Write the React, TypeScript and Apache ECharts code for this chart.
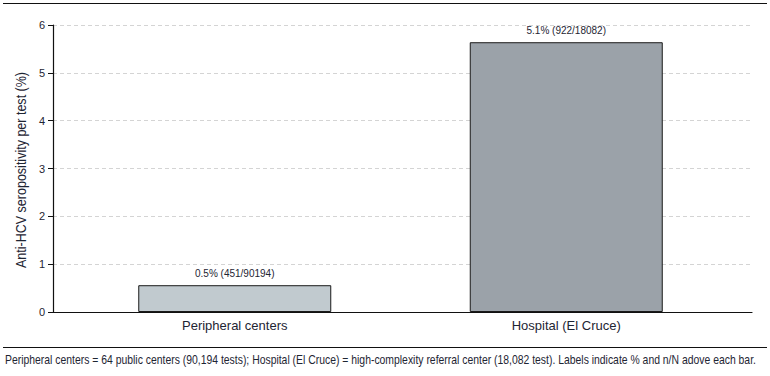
import React, { useEffect, useRef } from "react";
import * as echarts from "echarts";

const categories = ["Peripheral centers", "Hospital (El Cruce)"];
const positivity = [0.56, 5.64];
const barLabels = ["0.5% (451/90194)", "5.1% (922/18082)"];
const barColors = ["#c1cacf", "#9ba2a9"];
const yTitle = "Anti-HCV seropositivity per test (%)";
const footnote =
  "Peripheral centers = 64 public centers (90,194 tests); Hospital (El Cruce) = high-complexity referral center (18,082 test). Labels indicate % and n/N adove each bar.";

const FONT = "'Liberation Sans Narrow', 'Arial Narrow', 'Liberation Sans', sans-serif";
const TXT = "#1e2533";

export default function App() {
  const ref = useRef<HTMLDivElement>(null);
  useEffect(() => {
    if (!ref.current) return;
    const chart = echarts.init(ref.current, undefined, { renderer: "svg" });
    chart.setOption({
      animation: false,
      backgroundColor: "#ffffff",
      textStyle: { fontFamily: FONT },
      grid: [
        { left: 53, right: 18, top: 25, bottom: 64 },
        { left: 69, width: 663, top: 25, bottom: 64 },
      ],
      xAxis: [
        {
          type: "category",
          gridIndex: 0,
          data: categories,
          axisLine: { lineStyle: { color: "#111", width: 1.2 } },
          axisTick: { show: false },
          axisLabel: { show: false },
          splitLine: { show: false },
        },
        {
          type: "category",
          gridIndex: 1,
          data: categories,
          axisLine: { show: false },
          axisTick: {
            show: true,
            inside: true,
            alignWithLabel: true,
            length: 5,
            lineStyle: { color: "#111" },
          },
          axisLabel: {
            color: TXT,
            fontFamily: FONT,
            fontSize: 13,
            margin: 7,
            interval: 0,
          },
        },
      ],
      yAxis: [
        {
          type: "value",
          gridIndex: 0,
          min: 0,
          max: 6,
          interval: 1,
          axisLine: { show: true, lineStyle: { color: "#111", width: 1.2 } },
          axisTick: { show: true, length: 5, lineStyle: { color: "#111" } },
          axisLabel: { color: TXT, fontFamily: FONT, fontSize: 11, margin: 8 },
          splitLine: {
            show: true,
            lineStyle: { color: "#d4d4d4", type: [4, 3], width: 1 },
          },
        },
        {
          type: "value",
          gridIndex: 1,
          min: 0,
          max: 6,
          interval: 1,
          show: false,
        },
      ],
      series: [
        {
          type: "bar",
          xAxisIndex: 1,
          yAxisIndex: 1,
          barWidth: 193,
          data: positivity.map((v, i) => ({
            value: v,
            itemStyle: { color: barColors[i], borderColor: "#1a1a1a", borderWidth: 1 },
            label: { formatter: barLabels[i] },
          })),
          label: {
            show: true,
            position: "top",
            distance: 7,
            color: TXT,
            fontFamily: FONT,
            fontSize: 10,
          },
        },
      ],
      graphic: [
        {
          type: "line",
          shape: { x1: 3, y1: 3.5, x2: 767, y2: 3.5 },
          style: { stroke: "#111", lineWidth: 1.2 },
        },
        {
          type: "line",
          shape: { x1: 3, y1: 347.5, x2: 767, y2: 347.5 },
          style: { stroke: "#111", lineWidth: 1.2 },
        },
        {
          type: "text",
          x: 21,
          y: 170,
          rotation: Math.PI / 2,
          scaleX: 0.895,
          style: {
            text: yTitle,
            fill: TXT,
            font: `14px ${FONT}`,
            align: "center",
            verticalAlign: "middle",
          },
        },
        {
          type: "text",
          x: 5,
          y: 354,
          scaleX: 0.868,
          style: { text: footnote, fill: TXT, font: `12px ${FONT}` },
        },
      ],
    });
    return () => chart.dispose();
  }, []);
  return (
    <div
      ref={ref}
      style={{ position: "absolute", left: 0, top: 0, width: 770, height: 376 }}
    />
  );
}
